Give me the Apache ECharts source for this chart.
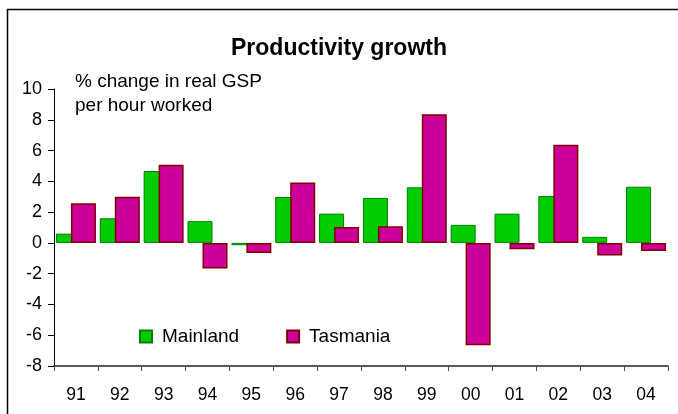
<!DOCTYPE html>
<html>
<head>
<meta charset="utf-8">
<script src="https://cdn.jsdelivr.net/npm/echarts@6/dist/echarts.min.js"></script>
<style>
  html, body { margin: 0; padding: 0; background: #fff; }
  #chart { width: 678px; height: 414px; }
</style>
</head>
<body>
<div id="chart"></div>
<script>
// Productivity growth, % change in real GSP per hour worked
const years = ['91', '92', '93', '94', '95', '96', '97', '98', '99', '00', '01', '02', '03', '04'];
const mainland = [0.6, 1.6, 4.67, 1.41, -0.15, 2.98, 1.9, 2.92, 3.61, 1.17, 1.9, 3.05, 0.39, 3.65];
const tasmania = [2.57, 3.0, 5.08, -1.66, -0.65, 3.93, 1.04, 1.08, 8.36, -6.65, -0.41, 6.38, -0.82, -0.52];

const chart = echarts.init(document.getElementById('chart'));
const font = 'Liberation Sans, Arial, sans-serif';

chart.setOption({
    animation: false,
    backgroundColor: '#fff',
    textStyle: { fontFamily: font },
    title: {
        text: 'Productivity growth',
        left: 'center',
        top: 32,
        textStyle: { fontSize: 23, fontWeight: 'bold', color: '#000', fontFamily: font }
    },
    graphic: [
        {
            type: 'rect',
            shape: { x: 7.5, y: 9.5, width: 700, height: 500 },
            style: { fill: 'none', stroke: '#000', lineWidth: 1.5 },
            silent: true
        },
        {
            type: 'text',
            left: 75,
            top: 70,
            style: {
                text: '% change in real GSP\nper hour worked',
                font: '19px ' + font,
                lineHeight: 24,
                fill: '#000'
            }
        }
    ],
    legend: {
        data: ['Mainland', 'Tasmania'],
        left: 139,
        top: 327,
        padding: 0,
        icon: 'rect',
        itemWidth: 12,
        itemHeight: 12,
        itemGap: 47,
        textStyle: { fontSize: 19, color: '#000', fontFamily: font, padding: [0, 0, 0, 5] }
    },
    grid: { left: 54, right: 10, top: 89, bottom: 48 },
    xAxis: [
        {
            type: 'category',
            data: years,
            position: 'bottom',
            axisLine: { show: false },
            axisTick: { show: false },
            axisLabel: { fontSize: 17.5, color: '#000', margin: 20, fontFamily: font }
        },
        {
            type: 'category',
            data: years,
            position: 'bottom',
            axisLine: { onZero: true, lineStyle: { color: '#1a2a1a', width: 1.5 } },
            axisTick: { show: true, length: 5, inside: false, lineStyle: { color: '#555' } },
            axisLabel: { show: false }
        }
    ],
    yAxis: {
        type: 'value',
        min: -8,
        max: 10,
        interval: 2,
        axisLine: { show: true, lineStyle: { color: '#000' } },
        axisTick: { show: true, length: 6, lineStyle: { color: '#000' } },
        axisLabel: { fontSize: 18, color: '#000', margin: 12, fontFamily: font },
        splitLine: { show: false }
    },
    series: [
        {
            name: 'Mainland',
            type: 'bar',
            data: mainland,
            barWidth: 25,
            barGap: '-40%',
            itemStyle: { color: '#00cc00', borderColor: '#008000', borderWidth: 1 }
        },
        {
            name: 'Tasmania',
            type: 'bar',
            data: tasmania,
            barWidth: 25,
            barGap: '-40%',
            itemStyle: { color: '#cc0099', borderColor: '#800000', borderWidth: 1.5 }
        }
    ]
});
</script>
</body>
</html>
